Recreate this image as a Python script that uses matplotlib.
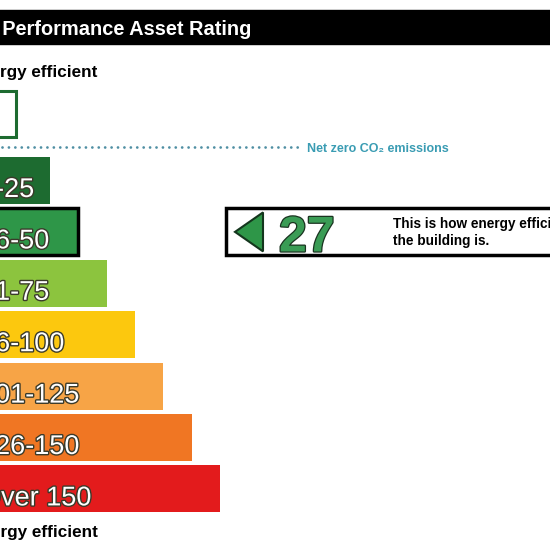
import numpy as np
import matplotlib
matplotlib.use("Agg")
import matplotlib.pyplot as plt
from matplotlib.patches import Rectangle, Polygon
import matplotlib.patheffects as pe

plt.rcParams["font.family"] = ["Liberation Sans", "DejaVu Sans"]

# data
title = "Energy Performance Asset Rating"
top_label = "More energy efficient"
bottom_label = "Less energy efficient"
net_zero_label = "Net zero CO\u2082 emissions"
band_labels = ["0-25", "26-50", "51-75", "76-100", "101-125", "126-150", "Over 150"]
band_upper = [25, 50, 75, 100, 125, 150, np.inf]
band_colors = ["#1d6b30", "#2e9648", "#8cc43e", "#fcc80e", "#f7a446", "#f07623", "#e31b1c"]
rating = 27
rating_text = "This is how energy efficient\nthe building is."

# layout (pixel coordinates, y downwards)
W = H = 550
first_top, step, bar_h = 157, 51.4, 47
right0, right_step, left = 50, 28.3, -10

fig = plt.figure(figsize=(5.5, 5.5), dpi=100)
ax = fig.add_axes([0, 0, 1, 1])
ax.set_xlim(0, W)
ax.set_ylim(H, 0)
ax.axis("off")

# header
ax.add_patch(Rectangle((-5, 10), W + 10, 34, color="black"))
ax.text(-71, 35, title, color="white", fontsize=14.4, fontweight="bold", va="baseline")

ax.text(-75, 77, top_label, fontsize=12.3, fontweight="bold", va="baseline")
ax.text(-73, 537, bottom_label, fontsize=12.3, fontweight="bold", va="baseline")

# net zero box and dotted line
ax.add_patch(Rectangle((-10, 91), 26, 46, facecolor="white", edgecolor="#1d6b30", lw=2.2))
ax.plot([2, 300], [147, 147], color="#4f8fa3", lw=2.0, ls=(0, (0.01, 2.3)),
        dash_capstyle="round")
ax.text(307, 151.5, net_zero_label, color="#3a9cb3", fontsize=9, fontweight="bold",
        va="baseline")

# bands
n = len(band_labels)
idx = np.arange(n)
centers = first_top + step * idx + bar_h / 2
rights = right0 + right_step * idx
band_idx = int(np.searchsorted(band_upper, rating))
edges = ["black" if i == band_idx else "none" for i in idx]
lws = [2.5 if i == band_idx else 0 for i in idx]
ax.barh(centers, rights - left, height=bar_h, left=left, color=band_colors,
        edgecolor=edges, linewidth=lws)

for c, lab in zip(centers, band_labels):
    ax.text(-20, c + bar_h / 2 - 7, lab, color="white", fontsize=19.5, va="baseline",
            path_effects=[pe.withStroke(linewidth=2, foreground="#3a3a2a")])

# rating pointer
yc = centers[band_idx]
ax.add_patch(Rectangle((226, yc - 23.5), 340, 47, facecolor="white", edgecolor="black", lw=2.5))
ax.add_patch(Polygon([(235, yc), (263, yc - 19.5), (263, yc + 19.5)], closed=True,
                     facecolor=band_colors[band_idx], edgecolor="#14361d", lw=1.5))
ax.text(279, yc + 19.5, str(rating), color="#3a9c55", fontsize=36, fontweight="bold",
        va="baseline", path_effects=[pe.withStroke(linewidth=1.8, foreground="#1a3320")])
ax.text(393, yc + 13, rating_text, fontsize=9.8, fontweight="bold", va="baseline",
        linespacing=1.25)

fig.savefig("out.png", dpi=100)
